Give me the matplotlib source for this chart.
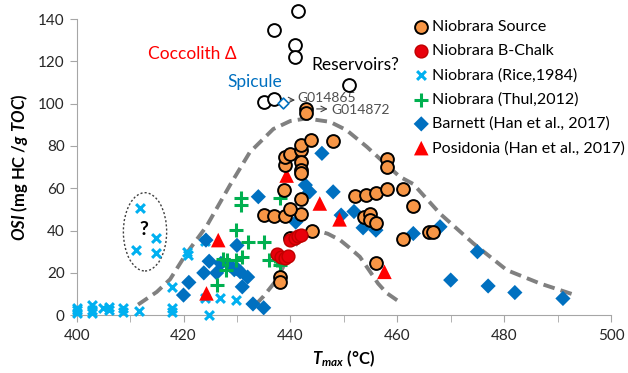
import matplotlib
matplotlib.use("Agg")
import matplotlib.pyplot as plt
from matplotlib.patches import Ellipse

plt.rcParams['font.family'] = ['Lato', 'DejaVu Sans']
plt.rcParams['mathtext.fontset'] = 'custom'
plt.rcParams['mathtext.it'] = 'Lato:bold:italic'
plt.rcParams['mathtext.rm'] = 'Lato:bold'

# --- data (Tmax degC, OSI mg HC/g TOC) ---
source_x = [438, 438, 435, 436.9, 439, 438.8, 439, 439, 440, 442, 442, 443.9, 448, 442, 442,
            442, 442, 442, 440, 440, 444, 443, 443, 452, 454.1, 456.1, 458, 461, 463, 461,
            466, 466.7, 456.1, 453.7, 454.9, 454.9, 456.1, 458, 458]
source_y = [18, 15.8, 47.3, 46.8, 47, 59, 71, 74.9, 76.2, 78, 80.4, 83, 82.3, 72.2, 68.6,
            67.3, 55, 48, 50, 36.3, 39.8, 97.3, 95.4, 56.3, 56.8, 57.9, 59.5, 59.5, 51.5, 36,
            39.4, 39.4, 24.7, 46.2, 47.6, 44.9, 43.4, 74, 70]

bchalk_x = [437.5, 438.3, 439, 439.5, 440, 440.8, 441.5, 442]
bchalk_y = [29, 27.5, 27, 28, 35.5, 36.5, 37.5, 38]

rice_x = [400, 400, 400, 402.8, 402.8, 402.8, 405, 406, 406, 408.7, 408.7, 411.7, 411.8, 411.1,
          414.8, 414.8, 417.8, 417.8, 417.8, 420.6, 420.8, 424, 424.8, 426.8, 429.9, 424]
rice_y = [2.4, 1, 3.5, 4.7, 2.4, 0.8, 3.2, 3.9, 2.5, 3.2, 1.6, 2, 50.5, 30.7,
          36.3, 29.5, 13.1, 3.3, 1.6, 30, 28.5, 8, 0, 7.9, 7.1, 35]

thul_x = [426.2, 427.3, 428, 428.1, 429.8, 429.9, 430.7, 430.7, 431, 432, 435, 436, 437.2,
          437.5, 438, 438]
thul_y = [14.5, 26.5, 21.3, 26, 26, 40.3, 55.5, 52, 27.3, 34.7, 34.7, 26, 28,
          26, 23.7, 55.2]

barnett_x = [420, 421, 423.8, 424.2, 424.8, 426.2, 427, 428.7, 429.5, 430, 430, 430.6, 431,
             432, 433, 435, 434, 441, 442.8, 443.6, 445.9, 448, 449.5, 451.9, 453.6, 456,
             463, 468, 475, 470, 477, 482, 491]
barnett_y = [9.5, 15.5, 20, 35.5, 25.5, 20, 24.5, 23.5, 21.5, 22, 33, 20.5, 13.4,
             18, 5.3, 3.5, 56, 44, 61.5, 58.3, 76.5, 58.3, 47.3, 49, 41.3, 40.2,
             38.6, 41.8, 30, 16.6, 13.8, 10.7, 7.9]

posid_x = [439.3, 426.5, 424.3, 445.5, 449.2, 457.6]
posid_y = [66, 35.5, 10.3, 52.8, 45.3, 20.5]

reserv_x = [441.5, 436.9, 440.9, 440.9, 435, 436.9, 451]
reserv_y = [144, 135, 127.7, 122, 100.6, 102.2, 108.8]

outer_x = [411.5, 415, 417.5, 420.5, 424.3, 428.7, 432.4, 436.8, 440, 443, 447.4, 450.5,
           454.3, 458, 460.5, 463, 468, 474.2, 480.5, 486.7, 493.3]
outer_y = [5, 11, 17, 29, 42, 61.5, 77, 88, 91.8, 93, 91.4, 87.5,
           79.6, 71, 65.4, 62, 48, 34, 21.3, 15, 9.5]
inner_x = [433.5, 435, 437.4, 439.9, 442, 443.5, 445, 447, 449.3, 451, 453, 454.8, 456.4, 458, 460]
inner_y = [5, 9, 16.6, 29, 37, 39.5, 40, 38.5, 35.5, 32, 27.6, 21, 15, 10.5, 7]

fig = plt.figure(figsize=(6.28, 3.73), dpi=100)
ax = fig.add_axes([0.122, 0.155, 0.851, 0.794])

gray = '#808080'
ax.plot(outer_x, outer_y, color=gray, lw=2.8, ls=(0, (3, 1.6)), zorder=2)
ax.plot(inner_x, inner_y, color=gray, lw=2.8, ls=(0, (3, 1.6)), zorder=2)

ax.scatter(rice_x, rice_y, marker='x', s=40, color='#00B0F0', linewidths=2.2,
           label='Niobrara (Rice,1984)', zorder=3, clip_on=False)
ax.scatter(barnett_x, barnett_y, marker='D', s=60, color='#0070C0', edgecolors='none',
           label='Barnett (Han et al., 2017)', zorder=3)
ax.scatter(thul_x, thul_y, marker='+', s=90, color='#00B050', linewidths=2.2,
           label='Niobrara (Thul,2012)', zorder=3)
ax.scatter(posid_x, posid_y, marker='^', s=110, color='#FF0000', edgecolors='none',
           label='Posidonia (Han et al., 2017)', zorder=3)
ax.scatter(source_x, source_y, marker='o', s=85, color='#F79646', edgecolors='black',
           linewidths=1.4, label='Niobrara Source', zorder=4)
ax.scatter(bchalk_x, bchalk_y, marker='o', s=85, color='#E8000B', edgecolors='#C00000',
           linewidths=1.0, label='Niobrara B-Chalk', zorder=4)
ax.scatter(reserv_x, reserv_y, marker='o', s=85, facecolors='white', edgecolors='black',
           linewidths=1.4, zorder=4, clip_on=False)
ax.scatter([438.6], [100.4], marker='D', s=30, facecolors='white', edgecolors='#0070C0',
           linewidths=1.2, zorder=4)

# dotted ellipse around the "?" group
ax.add_patch(Ellipse((412.8, 39.4), 8.1, 37, fill=False, ec='#404040', lw=1.0, ls=(0, (1.5, 1.5))))
ax.text(412.6, 40.5, '?', fontsize=14, fontweight='bold', ha='center', va='center')

ax.text(413.3, 123.5, 'Coccolith Δ', color='#FF0000', fontsize=12.5, va='center')
ax.text(428.2, 110, 'Spicule', color='#0070C0', fontsize=12.5, va='center')
ax.text(444, 118.3, 'Reservoirs?', color='black', fontsize=12.5, va='center')

# sample labels with short arrows
ax.annotate('', xy=(441.4, 101.7), xytext=(439.4, 101.7),
            arrowprops=dict(arrowstyle='->', color='#404040', lw=0.8))
ax.text(441.4, 102.6, 'G014865', color='#505050', fontsize=10, va='center', ha='left')
ax.annotate('', xy=(447.5, 97.5), xytext=(444.4, 97.5),
            arrowprops=dict(arrowstyle='->', color='#404040', lw=0.8))
ax.text(447.6, 97.0, 'G014872', color='#505050', fontsize=10, va='center', ha='left')

ax.set_xlim(400, 500)
ax.set_ylim(0, 140)
ax.set_xticks(range(400, 501, 20))
ax.set_xticks(range(400, 501, 10), minor=True)
ax.set_yticks(range(0, 141, 20))
for s in ['top', 'right']:
    ax.spines[s].set_visible(False)
for s in ['left', 'bottom']:
    ax.spines[s].set_color('#A6A6A6')
ax.tick_params(which='both', direction='out', color='#A6A6A6', labelsize=11,
               labelcolor='#262626', length=5)
ax.tick_params(axis='x', pad=5)

ax.set_xlabel(r'$T_{max}$ (°C)', fontsize=12, fontweight='bold', labelpad=4)
ax.set_ylabel(r'$OSI$ (mg HC /$g\ TOC$)', fontsize=12, fontweight='bold', labelpad=6)

handles, labels = ax.get_legend_handles_labels()
order = ['Niobrara Source', 'Niobrara B-Chalk', 'Niobrara (Rice,1984)',
         'Niobrara (Thul,2012)', 'Barnett (Han et al., 2017)', 'Posidonia (Han et al., 2017)']
hmap = dict(zip(labels, handles))
ax.legend([hmap[l] for l in order], order, loc='upper left', bbox_to_anchor=(0.612, 1.018),
          frameon=False, fontsize=11.5, handletextpad=0.0, labelspacing=0.62,
          borderaxespad=0, handlelength=1.4)

fig.savefig('out.png', dpi=100)
